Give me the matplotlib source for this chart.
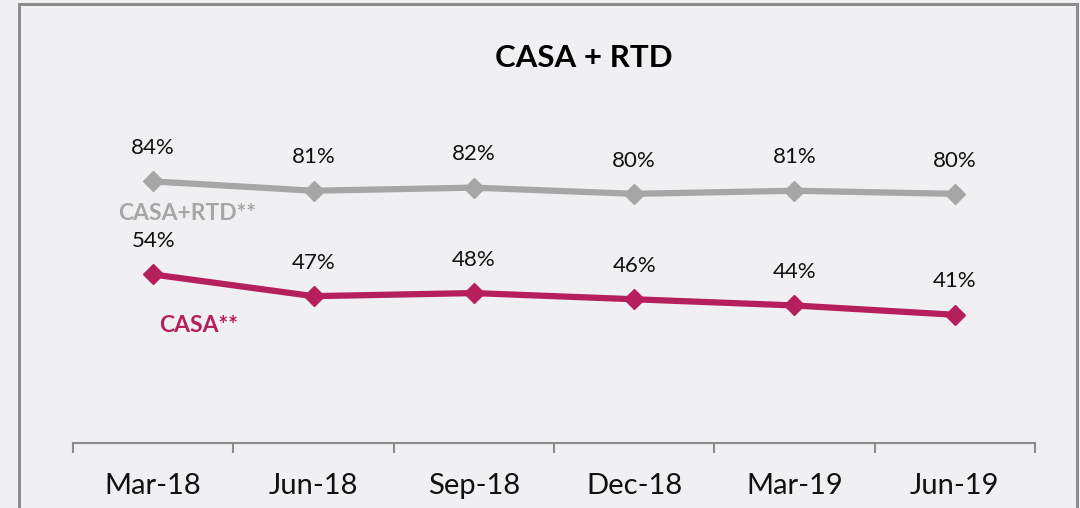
import matplotlib.pyplot as plt
from matplotlib.patches import Rectangle

quarters = ['Mar-18', 'Jun-18', 'Sep-18', 'Dec-18', 'Mar-19', 'Jun-19']
casa_rtd = [84, 81, 82, 80, 81, 80]
casa = [54, 47, 48, 46, 44, 41]

grey = '#a6a6a6'
pink = '#b51f5b'
bg = '#f0f0f2'

plt.rcParams['font.family'] = ['Lato', 'DejaVu Sans']

fig = plt.figure(figsize=(10.8, 5.08), dpi=100, facecolor=bg)
# outer frame (bottom edge runs off the picture)
fig.patches.append(Rectangle((19/1080, -0.1), (1077-19)/1080, 1.1 - 4/508,
                             transform=fig.transFigure, fill=False,
                             edgecolor='#8c8c8c', lw=2.2))

ax = fig.add_axes([73/1080, 65/508, 962/1080, 307/508])
ax.set_facecolor('none')
x = list(range(len(quarters)))

ax.plot(x, casa_rtd, color=grey, lw=4.5, marker='D', ms=10.5, clip_on=False)
ax.plot(x, casa, color=pink, lw=4.5, marker='D', ms=10.5, clip_on=False)

for xi, v in zip(x, casa_rtd):
    ax.annotate('%d%%' % v, (xi, v), xytext=(0, 24), textcoords='offset points',
                ha='center', va='center', fontsize=16, color='#111111')
for xi, v in zip(x, casa):
    ax.annotate('%d%%' % v, (xi, v), xytext=(0, 24), textcoords='offset points',
                ha='center', va='center', fontsize=16, color='#111111')

ax.text(0.214, 73.8, 'CASA+RTD**', color=grey, fontsize=16.5, fontweight='bold',
        ha='center', va='center')
ax.text(0.283, 37.7, 'CASA**', color=pink, fontsize=16.5, fontweight='bold',
        ha='center', va='center')

ax.set_xlim(-0.5, len(quarters) - 0.5)
ax.set_ylim(-0.35, 98.65)
ax.set_xticks(x)
ax.set_xticklabels(quarters, fontsize=21, color='#111111')
ax.set_xticks([i - 0.5 for i in range(len(quarters) + 1)], minor=True)
ax.tick_params(axis='x', which='major', length=0, pad=21.5)
ax.tick_params(axis='x', which='minor', length=7, width=1.5, color='#8c8c8c')
ax.set_yticks([])
for s in ['top', 'right', 'left']:
    ax.spines[s].set_visible(False)
ax.spines['bottom'].set_color('#8c8c8c')
ax.spines['bottom'].set_linewidth(1.5)

fig.text(583.5/1080, 1 - 58/508, 'CASA + RTD', ha='center', va='center',
         fontsize=22.5, fontweight='bold', color='black')

fig.savefig('out.png', dpi=100, facecolor=bg)
